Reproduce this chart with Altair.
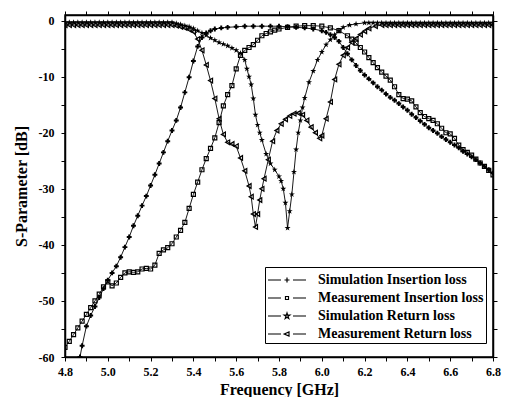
import altair as alt
import pandas as pd

series_names = ["Simulation Insertion loss", "Measurement Insertion loss",
                "Simulation Return loss", "Measurement Return loss"]

sim_il_f = [4.87, 4.88, 4.90, 4.92, 4.94, 4.96, 4.98, 5.00, 5.02, 5.04, 5.06, 5.08, 5.10,
            5.12, 5.14, 5.16, 5.18, 5.20, 5.22, 5.24, 5.26, 5.28, 5.30, 5.32, 5.34, 5.36,
            5.38, 5.40, 5.42, 5.44, 5.46, 5.48, 5.50, 5.53, 5.56, 5.60, 5.64, 5.68, 5.72,
            5.76, 5.80, 5.84, 5.88, 5.92, 5.96, 6.00, 6.02, 6.04, 6.06, 6.08, 6.10, 6.12,
            6.14, 6.16, 6.18, 6.20, 6.22, 6.24, 6.26, 6.28, 6.30, 6.32, 6.34, 6.36, 6.38,
            6.40, 6.42, 6.44, 6.46, 6.48, 6.50, 6.52, 6.54, 6.56, 6.58, 6.60, 6.62, 6.64,
            6.66, 6.68, 6.70, 6.72, 6.74, 6.76, 6.78, 6.80]
sim_il_db = [-60.0, -58.0, -54.5, -52.6, -51.0, -49.4, -47.8, -46.3, -45.0, -43.8, -42.2, -40.4, -38.6,
             -36.6, -34.8, -33.0, -31.3, -29.4, -27.5, -25.5, -23.5, -21.5, -19.6, -17.8, -15.5, -12.8,
             -10.1, -7.2, -4.6, -3.0, -2.2, -1.8, -1.5, -1.3, -1.2, -1.1, -1.0, -1.0, -1.0,
             -1.0, -1.0, -1.1, -1.2, -1.3, -1.5, -1.8, -2.1, -2.5, -3.0, -3.7, -4.8, -5.9,
             -7.0, -8.0, -8.9, -9.7, -10.4, -11.1, -11.8, -12.4, -13.1, -13.7, -14.2, -14.8, -15.4,
             -16.0, -16.7, -17.3, -17.9, -18.5, -19.1, -19.6, -20.1, -20.7, -21.2, -21.7, -22.2, -22.7,
             -23.3, -23.8, -24.3, -24.8, -25.4, -26.0, -26.6, -27.2]

meas_il_f = [4.80, 4.82, 4.84, 4.86, 4.88, 4.90, 4.92, 4.94, 4.96, 4.98, 5.00, 5.02, 5.04,
             5.06, 5.08, 5.10, 5.12, 5.14, 5.16, 5.18, 5.20, 5.22, 5.24, 5.26, 5.28, 5.30,
             5.32, 5.34, 5.36, 5.38, 5.40, 5.42, 5.44, 5.46, 5.48, 5.50, 5.52, 5.54, 5.56,
             5.58, 5.60, 5.62, 5.64, 5.66, 5.68, 5.70, 5.72, 5.74, 5.76, 5.78, 5.80, 5.84,
             5.88, 5.92, 5.96, 6.00, 6.04, 6.08, 6.12, 6.14, 6.16, 6.18, 6.20, 6.22, 6.24,
             6.26, 6.28, 6.30, 6.32, 6.34, 6.36, 6.38, 6.40, 6.42, 6.44, 6.46, 6.48, 6.50,
             6.52, 6.54, 6.56, 6.58, 6.60, 6.62, 6.64, 6.66, 6.68, 6.70, 6.72, 6.74, 6.76,
             6.78, 6.80]
meas_il_db = [-58.3, -57.2, -56.0, -54.8, -53.6, -52.4, -51.2, -50.0, -48.8, -47.5, -46.6, -47.3, -46.8,
              -45.8, -45.0, -44.8, -44.9, -44.8, -44.3, -44.2, -44.3, -43.6, -41.5, -40.9, -40.5, -39.8,
              -38.6, -37.4, -36.0, -33.5, -31.0, -28.8, -26.6, -24.6, -22.8, -20.9, -18.2, -15.2, -13.2,
              -11.6, -8.6, -6.2, -5.3, -4.8, -4.3, -3.5, -2.7, -2.3, -2.0, -1.7, -1.5, -1.2,
              -1.0, -0.9, -0.9, -1.0, -1.3, -1.8, -2.7, -3.3, -4.0, -4.8, -5.6, -6.6, -7.5,
              -8.4, -9.2, -9.9, -10.6, -11.8, -13.2, -13.9, -14.0, -14.3, -15.4, -16.4, -17.1, -17.5,
              -17.8, -18.4, -19.2, -20.0, -20.2, -21.0, -22.2, -23.0, -23.5, -24.0, -24.7, -25.4, -26.0,
              -26.7, -27.5]

sim_rl_f = [4.80, 4.82, 4.84, 4.86, 4.88, 4.90, 4.92, 4.94, 4.96, 4.98, 5.00, 5.02, 5.04,
            5.06, 5.08, 5.10, 5.12, 5.14, 5.16, 5.18, 5.20, 5.22, 5.24, 5.26, 5.28, 5.30,
            5.32, 5.34, 5.36, 5.38, 5.40, 5.42, 5.44, 5.46, 5.48, 5.50, 5.52, 5.54, 5.56,
            5.58, 5.60, 5.62, 5.64, 5.65, 5.66, 5.67, 5.68, 5.69, 5.70, 5.71, 5.72, 5.74,
            5.76, 5.78, 5.80, 5.81, 5.82, 5.83, 5.84, 5.85, 5.86, 5.87, 5.88, 5.89, 5.90,
            5.91, 5.92, 5.94, 5.96, 5.98, 6.00, 6.02, 6.04, 6.06, 6.08, 6.10, 6.13, 6.16,
            6.20, 6.22, 6.24, 6.26, 6.28, 6.30, 6.32, 6.34, 6.36, 6.38, 6.40, 6.42, 6.44,
            6.46, 6.48, 6.50, 6.52, 6.54, 6.56, 6.58, 6.60, 6.62, 6.64, 6.66, 6.68, 6.70,
            6.72, 6.74, 6.76, 6.78, 6.80]
sim_rl_db = [-0.3, -0.3, -0.3, -0.3, -0.3, -0.3, -0.3, -0.3, -0.3, -0.3, -0.3, -0.3, -0.3,
             -0.3, -0.3, -0.3, -0.3, -0.3, -0.3, -0.3, -0.3, -0.3, -0.3, -0.3, -0.3, -0.3,
             -0.5, -0.7, -0.9, -1.1, -1.4, -1.8, -2.2, -2.6, -3.1, -3.5, -3.9, -4.2, -4.5,
             -4.9, -5.3, -5.8, -7.0, -8.6, -10.0, -11.4, -13.9, -16.8, -18.6, -20.0, -21.3, -23.8,
             -25.5, -26.6, -27.8, -28.6, -30.0, -32.5, -37.0, -34.0, -31.0, -27.0, -23.0, -20.0, -17.8,
             -15.5, -13.8, -11.0, -9.0, -7.0, -5.6, -4.3, -3.4, -2.5, -1.8, -1.2, -0.8, -0.6,
             -0.4, -0.4, -0.4, -0.4, -0.4, -0.4, -0.4, -0.4, -0.4, -0.4, -0.4, -0.4, -0.4,
             -0.4, -0.4, -0.4, -0.4, -0.4, -0.4, -0.4, -0.4, -0.4, -0.4, -0.4, -0.4, -0.4,
             -0.4, -0.4, -0.4, -0.4, -0.4]

meas_rl_f = [4.80, 4.82, 4.84, 4.86, 4.88, 4.90, 4.92, 4.94, 4.96, 4.98, 5.00, 5.02, 5.04,
             5.06, 5.08, 5.10, 5.12, 5.14, 5.16, 5.18, 5.20, 5.22, 5.24, 5.26, 5.28, 5.30,
             5.32, 5.34, 5.36, 5.38, 5.40, 5.42, 5.44, 5.46, 5.48, 5.50, 5.52, 5.54, 5.56,
             5.58, 5.60, 5.62, 5.64, 5.66, 5.67, 5.68, 5.69, 5.70, 5.71, 5.72, 5.73, 5.75,
             5.77, 5.79, 5.81, 5.83, 5.85, 5.87, 5.89, 5.91, 5.93, 5.95, 5.97, 5.99, 6.00,
             6.02, 6.04, 6.06, 6.08, 6.10, 6.12, 6.14, 6.16, 6.18, 6.20, 6.22, 6.25, 6.28,
             6.30, 6.32, 6.34, 6.36, 6.38, 6.40, 6.42, 6.44, 6.46, 6.48, 6.50, 6.52, 6.54,
             6.56, 6.58, 6.60, 6.62, 6.64, 6.66, 6.68, 6.70, 6.72, 6.74, 6.76, 6.78, 6.80]
meas_rl_db = [-0.8, -0.8, -0.8, -0.8, -0.8, -0.8, -0.8, -0.8, -0.8, -0.8, -0.8, -0.8, -0.8,
              -0.8, -0.8, -0.8, -0.8, -0.8, -0.8, -0.8, -0.8, -0.8, -0.8, -0.8, -0.8, -0.8,
              -0.9, -1.1, -1.3, -1.6, -2.0, -3.3, -5.3, -7.9, -10.7, -13.9, -17.5, -20.3, -21.7,
              -22.0, -22.4, -24.5, -26.8, -29.5, -31.4, -34.5, -36.8, -34.5, -32.0, -30.0, -28.2, -24.8,
              -21.5, -19.6, -18.4, -17.6, -17.0, -16.6, -16.5, -16.8, -17.8, -19.0, -20.0, -21.0, -20.5,
              -17.5, -14.5, -10.5, -7.8, -6.2, -4.8, -3.9, -3.2, -2.5, -1.9, -1.4, -1.0, -0.8,
              -0.8, -0.8, -0.8, -0.8, -0.8, -0.8, -0.8, -0.8, -0.8, -0.8, -0.8, -0.8, -0.8,
              -0.8, -0.8, -0.8, -0.8, -0.8, -0.8, -0.8, -0.8, -0.8, -0.8, -0.8, -0.8, -0.8]

x_ticks = [round(4.8 + 0.1 * i, 1) for i in range(21)]
y_ticks = [-60 + 5 * i for i in range(13)]

rows = []
for name, fs, vs in zip(series_names, [sim_il_f, meas_il_f, sim_rl_f, meas_rl_f],
                        [sim_il_db, meas_il_db, sim_rl_db, meas_rl_db]):
    for i, (f, v) in enumerate(zip(fs, vs)):
        rows.append({"series": name, "f": f, "db": v, "order": i})
df = pd.DataFrame(rows)

STAR = ("M0,-1L0.224,-0.309L0.951,-0.309L0.363,0.118L0.588,0.809L0,0.382L-0.588,0.809"
        "L-0.363,0.118L-0.951,-0.309L-0.224,-0.309Z")
DASHES = "M-1.9,0H-0.6M0.6,0H1.9"
LEG_PLUS = DASHES + "M-0.25,0H0.25M0,-0.25V0.25"
LEG_SQ = DASHES + "M-0.15,-0.15H0.15V0.15H-0.15Z"
LEG_STAR = (DASHES + "M0,-0.3L0.067,-0.093L0.285,-0.093L0.109,0.035L0.176,0.243"
            "L0,0.115L-0.176,0.243L-0.109,0.035L-0.285,-0.093L-0.067,-0.093Z")
LEG_TRI = DASHES + "M-0.28,0L0.2,-0.2L0.2,0.2Z"

FONT = "Liberation Serif"
W, H = 428, 342
xs = alt.Scale(domain=[4.8, 6.8], nice=False, zero=False)
ys = alt.Scale(domain=[-60, 1], nice=False, zero=False)

ax_style = dict(domainColor="black", domainWidth=1.5, tickColor="black", tickWidth=1,
                tickSize=4, grid=False, labelFont=FONT, labelFontWeight="bold",
                labelFontSize=12, labelColor="black", titleFont=FONT,
                titleFontWeight="bold", titleFontSize=16, titleColor="black")

x_bottom = alt.Axis(values=x_ticks, orient="bottom", title="Frequency [GHz]",
                    labelExpr="round(datum.value*10) % 2 == 0 ? format(datum.value, '.1f') : ''",
                    labelPadding=5, titleX=W / 2, titleY=24, labelFlush=False, **ax_style)
y_left = alt.Axis(values=y_ticks, orient="left", title="S-Parameter [dB]",
                  labelExpr="datum.value % 10 == 0 ? '' + datum.value : ''",
                  labelPadding=7, titleX=-44, titleY=171, titleAngle=-90,
                  titleAlign="center", titleBaseline="middle", labelFlush=False, **ax_style)
x_top = alt.Axis(values=x_ticks, orient="top", labels=False, title=None, **ax_style)
y_right = alt.Axis(values=y_ticks, orient="right", labels=False, title=None, **ax_style)

base = alt.Chart(df)

lines = base.mark_line(color="black", strokeWidth=0.9, clip=True).encode(
    x=alt.X("f:Q", scale=xs, axis=x_bottom),
    y=alt.Y("db:Q", scale=ys, axis=y_left),
    detail="series:N",
    order="order:Q",
)

def pts(name, shape, filled, size, axes=False):
    return base.transform_filter(alt.datum.series == name).mark_point(
        shape=shape, filled=filled, size=size, color="black", strokeWidth=1.2,
        opacity=1, clip=True
    ).encode(
        x=alt.X("f:Q", scale=xs, axis=x_top if axes else None),
        y=alt.Y("db:Q", scale=ys, axis=y_right if axes else None),
    )

p1 = pts(series_names[0], "cross", True, 24, axes=True)
p2 = pts(series_names[1], "square", False, 16)
p3 = pts(series_names[2], STAR, True, 40)
p4 = pts(series_names[3], "triangle-left", False, 22)

legend_layer = base.mark_point(opacity=0, filled=False, color="black").encode(
    x=alt.X("f:Q", scale=xs, axis=None),
    y=alt.Y("db:Q", scale=ys, axis=None),
    shape=alt.Shape("series:N", sort=series_names,
                    scale=alt.Scale(domain=series_names,
                                    range=[LEG_PLUS, LEG_SQ, LEG_STAR, LEG_TRI]),
                    legend=alt.Legend(title=None, orient="none", legendX=200, legendY=252,
                                      strokeColor="black", fillColor="white", padding=2,
                                      labelFont=FONT, labelFontWeight="bold", labelFontSize=14,
                                      labelColor="black", labelLimit=0, labelOffset=20,
                                      symbolSize=400, symbolOffset=9,
                                      symbolFillColor="black",
                                      symbolStrokeColor="black", symbolStrokeWidth=1.2,
                                      symbolOpacity=1, rowPadding=0)),
)

chart = alt.layer(lines, p1, p2, p3, p4, legend_layer).resolve_axis(
    x="independent", y="independent"
).properties(
    width=W, height=H,
    autosize=alt.AutoSizeParams(type="none"),
    padding={"left": 57, "top": 7, "right": 9, "bottom": 40},
    background="white",
).configure_view(stroke="black", strokeWidth=1.5)

chart.save("out.html", embed_options={"renderer": "svg", "actions": False})
